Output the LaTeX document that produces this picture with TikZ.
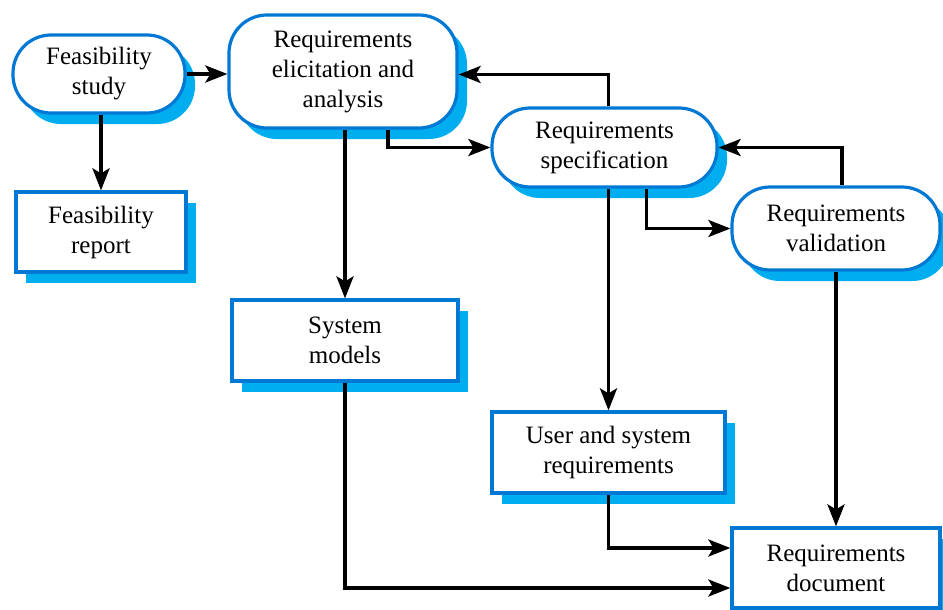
\documentclass[tikz,border=0pt]{standalone}
\usepackage{fontspec}
\setmainfont{Liberation Serif}
\usetikzlibrary{shadows,arrows.meta}
\definecolor{edgeblue}{RGB}{0,120,212}
\definecolor{shadeblue}{RGB}{0,174,239}
\begin{document}
\begin{tikzpicture}[x=1pt,y=-1pt,
  base/.style={draw=edgeblue, line width=3.2pt, fill=white, align=center, inner sep=0pt,
    font=\fontsize{25}{30}\selectfont,
    general shadow={fill=shadeblue, shadow xshift=10pt, shadow yshift=-11pt}},
  activity/.style={base, rounded corners=38pt},
  product/.style={base},
  arr/.style={line width=3.6pt, -{Stealth[length=22pt,width=17pt,inset=5pt]}}]
\useasboundingbox (0,0) rectangle (943,610);

% process steps (rounded) and their products (rectangles)
\node[activity, minimum width=172pt, minimum height=78pt] (feas) at (99,74) {Feasibility\\study};
\node[product, minimum width=170pt, minimum height=80pt] (report) at (101,232) {Feasibility\\report};
\node[activity, minimum width=228pt, minimum height=113pt] (elic) at (343,71.5) {Requirements\\elicitation and\\analysis};
\node[product, minimum width=226pt, minimum height=81pt] (models) at (345,340.5) {System\\models};
\node[activity, minimum width=225pt, minimum height=79pt] (spec) at (604.5,147.5) {Requirements\\specification};
\node[activity, minimum width=208pt, minimum height=83pt] (valid) at (836,228.5) {Requirements\\validation};
\node[product, minimum width=233pt, minimum height=81pt] (user) at (608.5,452.5) {User and system\\requirements};
\node[product, minimum width=208pt, minimum height=80pt] (doc) at (836,568) {Requirements\\document};

% flow between activities and products
\draw[arr] (feas.east) -- (feas.east -| elic.west);
\draw[arr] (report.north |- feas.south) -- (report.north);
\draw[arr] (models.north |- elic.south) -- (models.north);
\draw[arr] ([xshift=45pt]elic.south) |- (spec.west);
\draw[arr] ([xshift=4pt]spec.north) |- ([yshift=-3pt]elic.east);
\draw[arr] (user.north |- spec.south) -- (user.north);
\draw[arr] ([xshift=42pt]spec.south) |- (valid.west);
\draw[arr] ([xshift=6pt]valid.north) |- (spec.east);
\draw[arr] (valid.south) -- (doc.north);
\draw[arr] (user.south) |- ([yshift=20pt]doc.west);
\draw[arr] (models.south) |- ([yshift=-20pt]doc.west);
\end{tikzpicture}
\end{document}
